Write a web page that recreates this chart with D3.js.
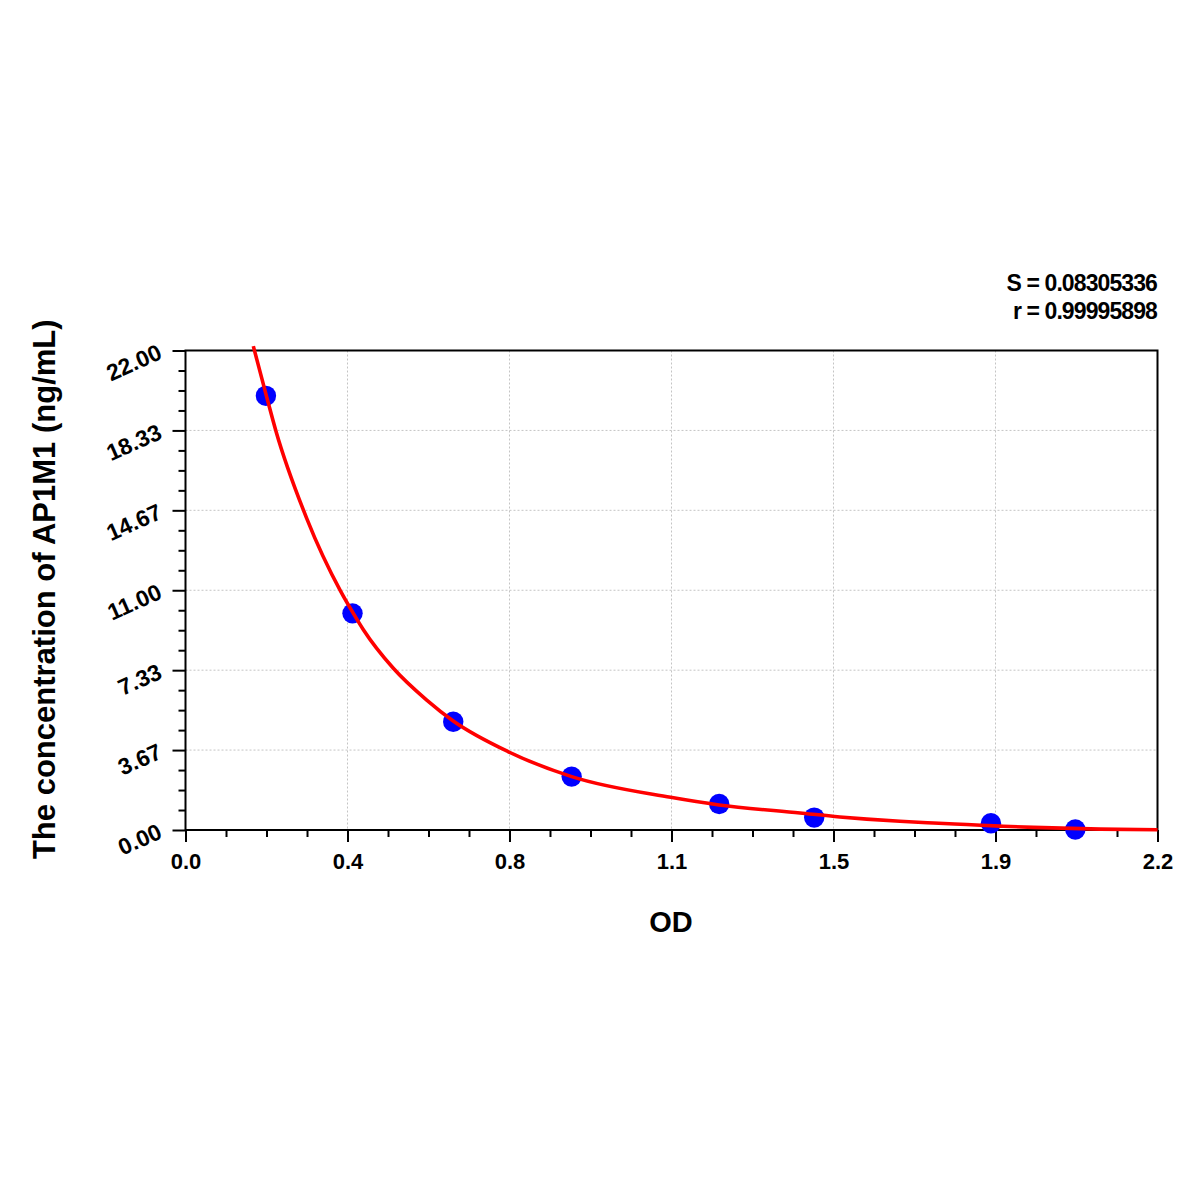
<!DOCTYPE html>
<html>
<head>
<meta charset="utf-8">
<script src="https://cdn.jsdelivr.net/npm/d3@7"></script>
<style>
  html, body { margin: 0; padding: 0; background: #fff; }
  svg { display: block; font-family: 'Liberation Sans', Arial, sans-serif; }
</style>
</head>
<body>
<svg id="chart" width="1200" height="1200"></svg>
<script>
// Standard points (OD vs concentration).
const pointOD = [0.182, 0.378, 0.606, 0.874, 1.208, 1.423, 1.823, 2.014];
const pointConc = [19.92, 9.94, 4.97, 2.45, 1.19, 0.57, 0.31, 0.02];

// Fitted curve, sampled by eye along the red line.
const curveOD = [0.1535, 0.184, 0.2048, 0.2743, 0.3513, 0.3799, 0.4026, 0.4704, 0.546, 0.606,
  0.7307, 0.874, 1.098, 1.2076, 1.391, 1.481, 1.542, 1.617, 1.693, 1.768, 1.844, 1.919, 2.07, 2.2];
const curveConc = [22.2, 19.85, 18.3, 14.3, 10.95, 9.94, 9.19, 7.42, 5.96, 5.0,
  3.59, 2.45, 1.5, 1.15, 0.78, 0.6, 0.5, 0.4, 0.32, 0.25, 0.18, 0.12, 0.04, 0.01];

const xTicks = [0, 0.3667, 0.7333, 1.1, 1.4667, 1.8333, 2.2];
const xTickLabels = ['0.0', '0.4', '0.8', '1.1', '1.5', '1.9', '2.2'];
const yTicks = [0, 3.667, 7.333, 11, 14.667, 18.333, 22];
const yTickLabels = ['0.00', '3.67', '7.33', '11.00', '14.67', '18.33', '22.00'];

const statLines = ['S = 0.08305336', 'r = 0.99995898'];
const xTitle = 'OD';
const yTitle = 'The concentration of AP1M1 (ng/mL)';

const L = 185.5, R = 1157.5, T = 350.5, B = 830;
const svg = d3.select('#chart');

const x = d3.scaleLinear().domain([0, 2.2]).range([L, R]);
const y = d3.scaleLinear().domain([0, 22]).range([B, T]);

// minor ticks: 3 between each pair of majors
function minors(ticks) {
  const out = [];
  for (let i = 0; i < ticks.length - 1; i++) {
    const step = (ticks[i + 1] - ticks[i]) / 4;
    for (let k = 1; k < 4; k++) out.push(ticks[i] + k * step);
  }
  return out;
}

// dotted grid
const grid = svg.append('g');
grid.selectAll('line.gx')
  .data(xTicks.slice(1, -1))
  .enter().append('line')
  .attr('x1', (d) => x(d)).attr('x2', (d) => x(d))
  .attr('y1', T).attr('y2', B)
  .attr('stroke', '#c4c4c4').attr('stroke-width', 1).attr('stroke-dasharray', '2,2');
grid.selectAll('line.gy')
  .data(yTicks.slice(1, -1))
  .enter().append('line')
  .attr('x1', L).attr('x2', R)
  .attr('y1', (d) => y(d)).attr('y2', (d) => y(d))
  .attr('stroke', '#c4c4c4').attr('stroke-width', 1).attr('stroke-dasharray', '2,2');

// frame
svg.append('rect')
  .attr('x', L).attr('y', T).attr('width', R - L).attr('height', B - T)
  .attr('fill', 'none').attr('stroke', '#000').attr('stroke-width', 2);

// x axis ticks
const xAxisG = svg.append('g').attr('transform', `translate(0,${B})`);
xAxisG.call(d3.axisBottom(x).tickValues(xTicks).tickSize(12).tickFormat((d, i) => xTickLabels[i]));
xAxisG.append('g').call(d3.axisBottom(x).tickValues(minors(xTicks)).tickSize(7).tickFormat(''));
xAxisG.selectAll('.domain').remove();
xAxisG.selectAll('line').attr('stroke', '#000').attr('stroke-width', 2);
xAxisG.selectAll('text')
  .attr('y', 23)
  .attr('fill', '#000')
  .style('font-size', '22px')
  .style('font-weight', 'bold')
  .style('font-family', "'Liberation Sans', Arial, sans-serif");

// y axis ticks
const yAxisG = svg.append('g').attr('transform', `translate(${L},0)`);
yAxisG.call(d3.axisLeft(y).tickValues(yTicks).tickSize(13).tickFormat((d, i) => yTickLabels[i]));
yAxisG.append('g').call(d3.axisLeft(y).tickValues(minors(yTicks)).tickSize(7).tickFormat(''));
yAxisG.selectAll('.domain').remove();
yAxisG.selectAll('line').attr('stroke', '#000').attr('stroke-width', 2);
yAxisG.selectAll('.tick text')
  .attr('x', null).attr('dy', null)
  .attr('text-anchor', 'end')
  .attr('transform', 'translate(-22,7) rotate(-24)')
  .attr('fill', '#000')
  .style('font-size', '23px')
  .style('font-weight', 'bold')
  .style('font-family', "'Liberation Sans', Arial, sans-serif");

// fitted curve
const curvePts = curveOD.map((d, i) => [d, curveConc[i]]);
const curveLine = d3.line().x((d) => x(d[0])).y((d) => y(d[1])).curve(d3.curveMonotoneX);

// standard points
svg.append('g').selectAll('circle')
  .data(pointOD.map((d, i) => [d, pointConc[i]]))
  .enter().append('circle')
  .attr('cx', (d) => x(d[0]))
  .attr('cy', (d) => y(d[1]))
  .attr('r', 10.2)
  .attr('fill', '#0000ff');

// the red fit sits on top of the points
svg.append('path')
  .datum(curvePts)
  .attr('fill', 'none')
  .attr('stroke', '#ff0000')
  .attr('stroke-width', 3.6)
  .attr('stroke-linejoin', 'round')
  .attr('d', curveLine);

// titles
svg.append('text')
  .attr('x', 671)
  .attr('y', 932)
  .attr('text-anchor', 'middle')
  .style('font-size', '29px')
  .style('font-weight', 'bold')
  .text(xTitle);

svg.append('text')
  .attr('transform', `translate(55,${(T + B) / 2 - 1}) rotate(-90)`)
  .attr('text-anchor', 'middle')
  .style('font-size', '31px')
  .style('font-weight', 'bold')
  .text(yTitle);

// fit statistics
svg.append('g').selectAll('text')
  .data(statLines)
  .enter().append('text')
  .attr('x', 1157)
  .attr('y', (d, i) => 291 + i * 27.5)
  .attr('text-anchor', 'end')
  .style('font-size', '23px')
  .style('font-weight', 'bold')
  .style('letter-spacing', '-0.9px')
  .text((d) => d);
</script>
</body>
</html>
